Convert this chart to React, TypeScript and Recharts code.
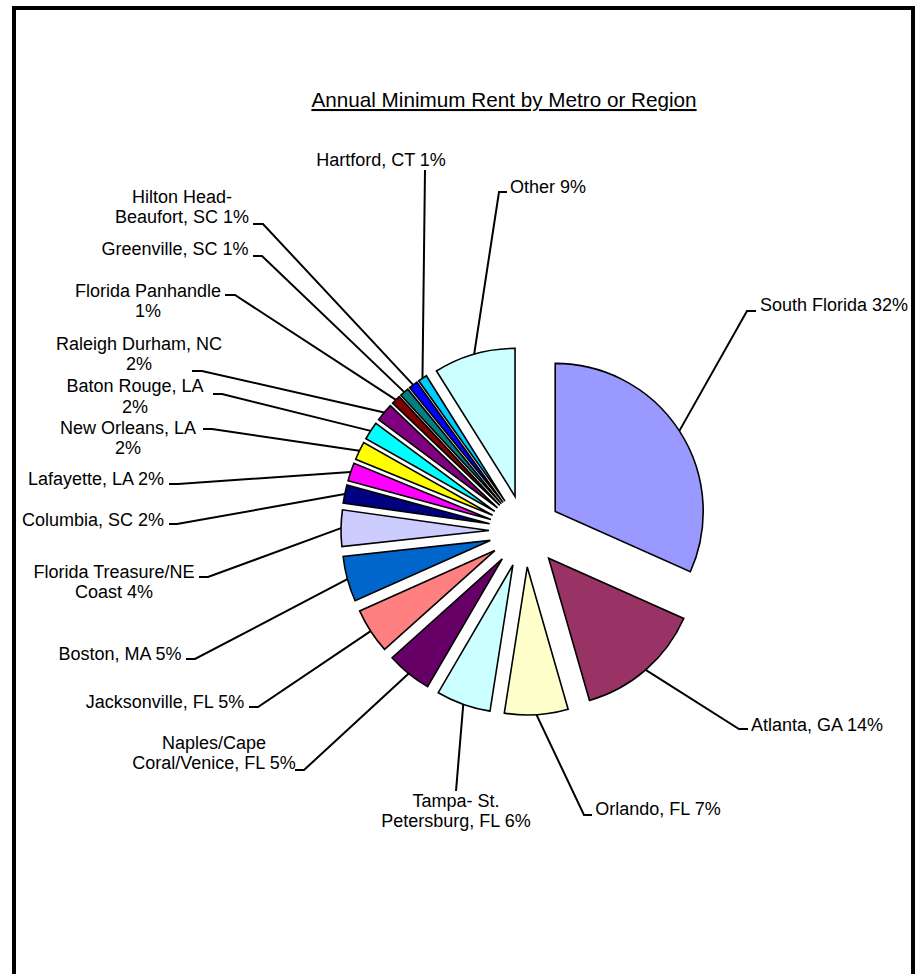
import React from 'react';
import { PieChart, Pie, Sector } from 'recharts';

const REGIONS = [
  'South Florida',
  'Atlanta, GA',
  'Orlando, FL',
  'Tampa- St. Petersburg, FL',
  'Naples/Cape Coral/Venice, FL',
  'Jacksonville, FL',
  'Boston, MA',
  'Florida Treasure/NE Coast',
  'Columbia, SC',
  'Lafayette, LA',
  'New Orleans, LA',
  'Baton Rouge, LA',
  'Raleigh Durham, NC',
  'Florida Panhandle',
  'Greenville, SC',
  'Hilton Head-Beaufort, SC',
  'Hartford, CT',
  'Other',
];

// share of annual minimum rent, in percent
const SHARE = [32, 14, 7, 6, 5, 5, 5, 4, 2, 2, 2, 2, 2, 1, 1, 1, 1, 9];

// where the data label wraps onto a second line
const BREAK_AFTER: (string | null)[] = [
  null, null, null, 'Tampa- St.', 'Naples/Cape', null, null, 'Florida Treasure/NE',
  null, null, 'New Orleans, LA', 'Baton Rouge, LA', 'Raleigh Durham, NC', 'Florida Panhandle',
  null, 'Hilton Head-', null, null,
];

const COLORS = [
  '#9999FF', '#993366', '#FFFFCC', '#CCFFFF', '#660066', '#FF8080', '#0066CC', '#CCCCFF',
  '#000080', '#FF00FF', '#FFFF00', '#00FFFF', '#800080', '#800000', '#008080', '#0000FF',
  '#00CCFF', '#CCFFFF',
];

// label placement, offsets from the pie centre: leader elbow, tick length, text centre / first baseline
const LABEL_LAYOUT = [
  { elbow: [222, -220], tick: 9, text: [309, -220], lh: 20 },
  { elbow: [214, 198], tick: 9, text: [292, 200], lh: 20 },
  { elbow: [59, 284], tick: 8, text: [133, 284], lh: 20 },
  { elbow: [-69, 260], tick: 0, text: [-69, 276], lh: 20 },
  { elbow: [-221, 239], tick: -9, text: [-311, 218], lh: 20 },
  { elbow: [-267, 176], tick: -9, text: [-360, 177], lh: 20 },
  { elbow: [-330, 128], tick: -9, text: [-405, 129], lh: 20 },
  { elbow: [-317, 46], tick: -9, text: [-411, 47], lh: 20 },
  { elbow: [-348, -7], tick: -8, text: [-432, -5], lh: 20 },
  { elbow: [-347, -47], tick: -9, text: [-429, -46], lh: 20 },
  { elbow: [-313, -102], tick: -9, text: [-397, -97.5], lh: 20 },
  { elbow: [-303, -137], tick: -9, text: [-390, -139], lh: 20.5 },
  { elbow: [-323, -160], tick: -10, text: [-386, -181], lh: 20 },
  { elbow: [-290, -236], tick: -10, text: [-377, -234], lh: 20 },
  { elbow: [-263, -275], tick: -9, text: [-350, -276], lh: 20 },
  { elbow: [-262, -307], tick: -10, text: [-343, -328], lh: 20 },
  { elbow: [-100, -361], tick: 0, text: [-144, -365], lh: 20 },
  { elbow: [-26, -339], tick: 8, text: [23, -338], lh: 20 },
];

const data = REGIONS.map((name, i) => ({ name, value: SHARE[i] }));

const RAD = Math.PI / 180;
const EXPLODE = 36;
const FONT = '"Liberation Sans", Arial, sans-serif';

function renderSlice(props: any) {
  const { cx, cy, midAngle, outerRadius, startAngle, endAngle, index, percent } = props;
  const ux = Math.cos(midAngle * RAD);
  const uy = -Math.sin(midAngle * RAD);
  const sx = cx + EXPLODE * ux;
  const sy = cy + EXPLODE * uy;
  const ax = sx + outerRadius * ux;
  const ay = sy + outerRadius * uy;

  const lay = LABEL_LAYOUT[index];
  const ex = cx + lay.elbow[0];
  const ey = cy + lay.elbow[1];
  const label = `${REGIONS[index]} ${Math.round(percent * 100)}%`;
  const brk = BREAK_AFTER[index];
  const lines = brk ? [brk, label.slice(brk.length).trim()] : [label];
  const tx = cx + lay.text[0];

  return (
    <g key={`slice-${index}`}>
      <Sector
        cx={sx}
        cy={sy}
        innerRadius={0}
        outerRadius={outerRadius}
        startAngle={startAngle}
        endAngle={endAngle}
        fill={COLORS[index]}
        stroke="#000"
        strokeWidth={1.6}
      />
      <polyline
        points={`${ax},${ay} ${ex},${ey} ${ex + lay.tick},${ey}`}
        fill="none"
        stroke="#000"
        strokeWidth={2}
      />
      <text x={tx} y={cy + lay.text[1]} textAnchor="middle" fontFamily={FONT} fontSize={18} fill="#000">
        {lines.map((l, i) => (
          <tspan key={i} x={tx} dy={i === 0 ? 0 : lay.lh}>{l}</tspan>
        ))}
      </text>
    </g>
  );
}

export default function App() {
  return (
    <div style={{ position: 'absolute', left: 0, top: 0, width: 919, height: 974, overflow: 'hidden', background: '#fff' }}>
      <div
        style={{
          position: 'absolute',
          left: 12,
          top: 6,
          width: 895,
          height: 980,
          borderLeft: '4px solid #000',
          borderTop: '4px solid #000',
          borderRight: '4px solid #000',
        }}
      />
      <div style={{ position: 'absolute', left: 0, top: 0 }}>
        <PieChart width={919} height={974} margin={{ top: 0, right: 0, bottom: 0, left: 0 }}>
          <text
            x={504}
            y={107}
            textAnchor="middle"
            fontFamily={FONT}
            fontSize={20.7}
            textDecoration="underline"
            fill="#000"
          >
            Annual Minimum Rent by Metro or Region
          </text>
          <Pie
            data={data}
            dataKey="value"
            nameKey="name"
            cx={525}
            cy={531}
            outerRadius={148}
            startAngle={90}
            endAngle={-270}
            fill="none"
            stroke="none"
            label={renderSlice}
            labelLine={false}
            isAnimationActive={false}
          />
        </PieChart>
      </div>
    </div>
  );
}
